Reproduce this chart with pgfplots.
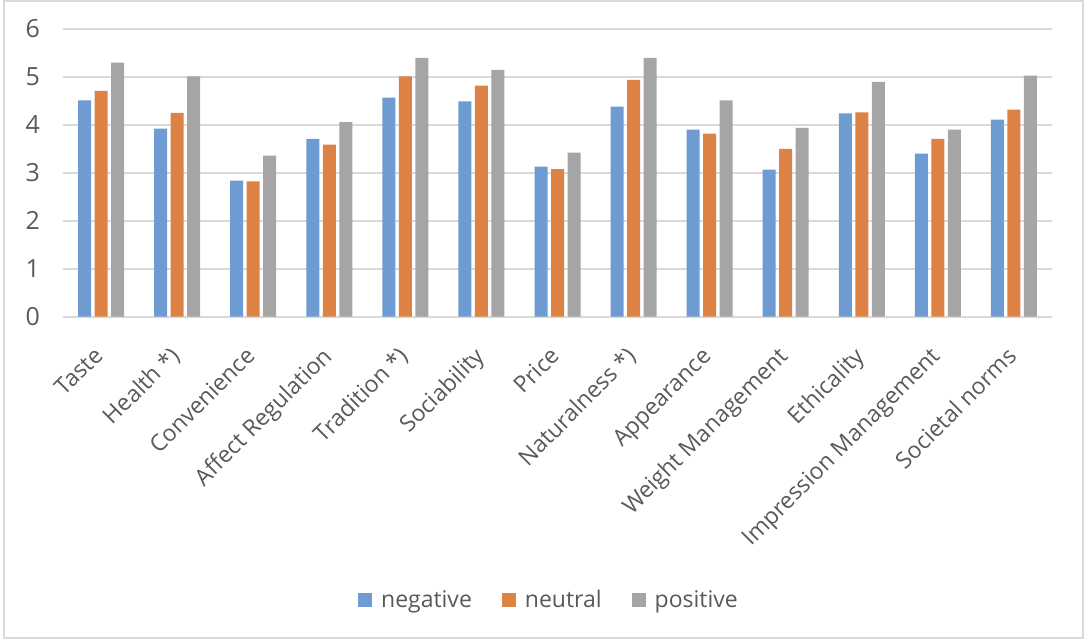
\documentclass[border=0pt]{standalone}
\usepackage{pgfplots}
\pgfplotsset{compat=1.18}
\usepackage{fontspec}
\setmainfont{Open Sans}
\definecolor{cneg}{HTML}{6E9BD1}
\definecolor{cneu}{HTML}{DC8244}
\definecolor{cpos}{HTML}{A5A5A5}
\definecolor{txt}{HTML}{595959}
\definecolor{grd}{HTML}{D9D9D9}
\begin{document}
\begin{tikzpicture}
\useasboundingbox (0,0) rectangle (543pt,319.5pt);
\draw[grd, line width=1pt] (2pt,0.5pt) rectangle (541.5pt,319pt);
\begin{axis}[
  at={(31.5pt,161.15pt)}, anchor=south west,
  scale only axis, width=494.5pt, height=143.85pt,
  xmin=-0.5, xmax=12.5, ymin=0, ymax=6,
  ybar=1.75pt, bar width=6.5pt,
  axis lines=left, axis line style={-},
  y axis line style={draw=none},
  x axis line style={grd, line width=1pt},
  ymajorgrids, grid style={grd, line width=0.8pt},
  ytick={0,1,2,3,4,5,6},
  xtick=data, major tick length=0pt,
  xticklabels={Taste, Health *), Convenience, Affect Regulation, Tradition *), Sociability, Price, Naturalness *), Appearance, Weight Management, Ethicality, Impression Management, Societal norms},
  xticklabel style={rotate=45, anchor=north east, inner sep=1pt, xshift=-12pt, yshift=-6pt},
  tick label style={font=\fontsize{11.5pt}{13pt}\selectfont, text=txt},
  yticklabel style={xshift=-8pt, font=\fontsize{12.5pt}{14pt}\selectfont},
  /pgf/number format/assume math mode=true,
  legend style={at={(0.4924,-0.985)}, anchor=center, draw=none, legend columns=-1,
    font=\fontsize{11.5pt}{13pt}\selectfont, text=txt,
    /tikz/every even column/.append style={column sep=13pt},
    /tikz/every odd column/.append style={column sep=2.5pt}},
  legend image code/.code={\fill[#1] (0pt,-3.5pt) rectangle (7pt,3.5pt);},
  clip=false,
]
\addplot[fill=cneg, draw=none] coordinates {(0,4.51) (1,3.92) (2,2.84) (3,3.71) (4,4.57) (5,4.49) (6,3.13) (7,4.38) (8,3.90) (9,3.07) (10,4.24) (11,3.40) (12,4.11)};
\addplot[fill=cneu, draw=none] coordinates {(0,4.71) (1,4.25) (2,2.82) (3,3.59) (4,5.01) (5,4.82) (6,3.08) (7,4.94) (8,3.82) (9,3.50) (10,4.26) (11,3.71) (12,4.32)};
\addplot[fill=cpos, draw=none] coordinates {(0,5.30) (1,5.01) (2,3.36) (3,4.06) (4,5.40) (5,5.15) (6,3.42) (7,5.40) (8,4.51) (9,3.94) (10,4.90) (11,3.90) (12,5.03)};
\legend{negative, neutral, positive}
\end{axis}
\end{tikzpicture}
\end{document}
